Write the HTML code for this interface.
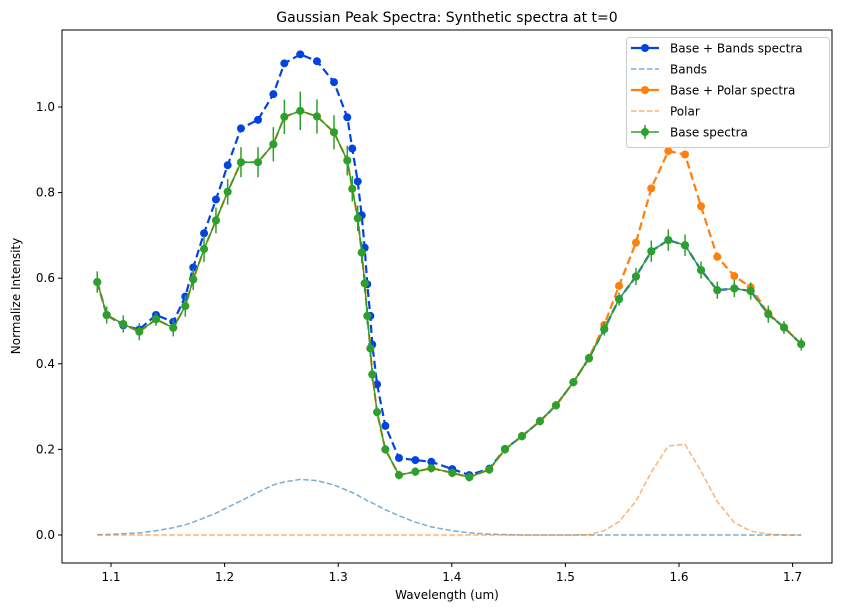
<!DOCTYPE html>
<html><head><meta charset="utf-8"><style>
html,body{margin:0;padding:0;background:#fff;}
svg{display:block;font-family:"DejaVu Sans","Liberation Sans",sans-serif;}
</style></head><body>
<svg id="chart" width="846" height="612" viewBox="0 0 846 612">
<rect x="0" y="0" width="846" height="612" fill="#fff"/>
<text x="447" y="22" font-size="14" text-anchor="middle">Gaussian Peak Spectra: Synthetic spectra at t=0</text>
<g id="plot"></g>
<g id="axes"></g>
<rect x="62" y="30" width="770" height="533" fill="none" stroke="#000" stroke-width="1"/>
<text x="447" y="599" font-size="12" text-anchor="middle">Wavelength (um)</text>
<text x="20" y="296" font-size="12" text-anchor="middle" transform="rotate(-90 20 296)">Normalize Intensity</text>
<g id="legend"></g>
</svg>
<script>
const wavelength=[1.0879,1.0962,1.1108,1.1249,1.1396,1.1548,1.1654,1.1724,1.1819,1.1924,1.2027,1.2144,1.2294,1.2429,1.2526,1.2666,1.2813,1.2963,1.3080,1.3124,1.3172,1.3207,1.3233,1.3256,1.3283,1.3300,1.3342,1.3415,1.3535,1.3679,1.3820,1.4004,1.4154,1.4330,1.4468,1.4618,1.4776,1.4917,1.5070,1.5208,1.5342,1.5472,1.5621,1.5756,1.5906,1.6053,1.6194,1.6337,1.6487,1.6631,1.6786,1.6924,1.7076];
const baseSpectra=[0.591,0.514,0.493,0.475,0.504,0.484,0.535,0.597,0.668,0.735,0.802,0.871,0.871,0.913,0.977,0.991,0.978,0.941,0.875,0.809,0.740,0.660,0.588,0.512,0.436,0.375,0.287,0.200,0.140,0.148,0.156,0.145,0.135,0.153,0.200,0.231,0.266,0.303,0.357,0.413,0.481,0.551,0.604,0.663,0.689,0.677,0.619,0.572,0.576,0.570,0.516,0.485,0.446];
const baseErr=[0.025,0.02,0.02,0.02,0.015,0.02,0.025,0.025,0.03,0.03,0.03,0.035,0.035,0.04,0.04,0.045,0.04,0.04,0.035,0.03,0.03,0.025,0.02,0.02,0.02,0.015,0.01,0.01,0.01,0.01,0.01,0.01,0.01,0.01,0.01,0.01,0.01,0.01,0.01,0.01,0.015,0.015,0.02,0.025,0.025,0.025,0.02,0.02,0.02,0.02,0.02,0.015,0.015];
const bands=[0.001,0.001,0.003,0.005,0.010,0.017,0.024,0.030,0.040,0.051,0.065,0.080,0.100,0.117,0.124,0.130,0.127,0.117,0.104,0.099,0.093,0.087,0.084,0.080,0.077,0.075,0.069,0.059,0.045,0.030,0.019,0.010,0.005,0.002,0.001,0,0,0,0,0,0,0,0,0,0,0,0,0,0,0,0,0,0];
const polar=[0,0,0,0,0,0,0,0,0,0,0,0,0,0,0,0,0,0,0,0,0,0,0,0,0,0,0,0,0,0,0,0,0,0,0,0,0,0,0,0.001,0.010,0.031,0.079,0.147,0.208,0.212,0.149,0.078,0.029,0.009,0.002,0,0];
const bandsSpectra=[0.591,0.514,0.490,0.480,0.514,0.498,0.557,0.625,0.705,0.784,0.864,0.950,0.970,1.030,1.102,1.123,1.107,1.058,0.976,0.903,0.826,0.747,0.671,0.586,0.512,0.445,0.352,0.255,0.180,0.175,0.171,0.154,0.140,0.155,0.201,0.231,0.266,0.303,0.357,0.413,0.481,0.551,0.604,0.663,0.689,0.677,0.619,0.572,0.576,0.570,0.516,0.485,0.446];
const polarSpectra=[0.591,0.514,0.493,0.475,0.504,0.484,0.535,0.597,0.668,0.735,0.802,0.871,0.871,0.913,0.977,0.991,0.978,0.941,0.875,0.809,0.740,0.660,0.588,0.512,0.436,0.375,0.287,0.200,0.140,0.148,0.156,0.145,0.135,0.153,0.200,0.231,0.266,0.303,0.357,0.414,0.491,0.582,0.683,0.810,0.897,0.889,0.768,0.650,0.605,0.579,0.518,0.485,0.446];
const xTicks=[1.1,1.2,1.3,1.4,1.5,1.6,1.7];
const xTickLabels=["1.1","1.2","1.3","1.4","1.5","1.6","1.7"];
const yTicks=[0,0.2,0.4,0.6,0.8,1.0];
const yTickLabels=["0.0","0.2","0.4","0.6","0.8","1.0"];

const NS="http://www.w3.org/2000/svg";
function X(v){return 111+(v-1.1)*1136;}
function Y(v){return 535-v*428;}
function mk(tag,attrs,parent){const e=document.createElementNS(NS,tag);for(const k in attrs)e.setAttribute(k,attrs[k]);parent.appendChild(e);return e;}
const plot=document.getElementById('plot'),axes=document.getElementById('axes'),legend=document.getElementById('legend');

xTicks.forEach((t,i)=>{
  const l=mk('line',{x1:X(t),x2:X(t),y1:563,y2:567,stroke:'#000'},axes);
  
  
  const tx=mk('text',{x:X(t),y:581,'font-size':12,'text-anchor':'middle'},axes);
  tx.textContent=xTickLabels[i];
  
  
});
yTicks.forEach((t,i)=>{
  const l=mk('line',{x1:58,x2:62,y1:Y(t),y2:Y(t),stroke:'#000'},axes);
  
  
  const tx=mk('text',{x:55,y:Y(t)+4,'font-size':12,'text-anchor':'end'},axes);
  tx.textContent=yTickLabels[i];
  
  
});
function pts(arr){return wavelength.map((w,i)=>X(w).toFixed(1)+','+Y(arr[i]).toFixed(1)).join(' ');}
function line(arr,color,width,dash,op,name){
  const p=mk('polyline',{points:pts(arr),fill:'none',stroke:color,'stroke-width':width,'stroke-dasharray':dash||'none','stroke-opacity':op},plot);
  
  
}
function markers(arr,color,name){
  arr.forEach((v,i)=>{
    const c=mk('circle',{cx:X(wavelength[i]),cy:Y(v),r:4,fill:color},plot);
    
    
  });
}
line(bandsSpectra,'#0343df',2.2,'8,4',1,'bands-spectra-line');
markers(bandsSpectra,'#0343df','bands-spectra-point');
line(bands,'#1f77b4',1.5,'5.5,2.5',0.6,'bands-line');
line(polarSpectra,'#ff7f0e',2.2,'8,4',1,'polar-spectra-line');
markers(polarSpectra,'#ff7f0e','polar-spectra-point');
line(polar,'#ff7f0e',1.5,'5.5,2.5',0.6,'polar-line');
baseSpectra.forEach((v,i)=>{
  const e=mk('line',{x1:X(wavelength[i]),x2:X(wavelength[i]),y1:Y(v-baseErr[i]),y2:Y(v+baseErr[i]),stroke:'#2ca02c','stroke-width':1.5},plot);
  
  
});
line(baseSpectra,'#2ca02c',1.5,null,1,'base-spectra-line');
markers(baseSpectra,'#2ca02c','base-spectra-point');

const lb=mk('rect',{x:626.5,y:37.5,width:203,height:110,rx:3,fill:'#fff','fill-opacity':0.8,stroke:'#ccc'},legend);


const entries=[["Base + Bands spectra",'#0343df',1,true,2.2],["Bands",'#1f77b4',0.6,false,1.5],["Base + Polar spectra",'#ff7f0e',1,true,2.2],["Polar",'#ff7f0e',0.6,false,1.5],["Base spectra",'#2ca02c',1,true,1.5]];
entries.forEach((en,i)=>{
  const y=48+i*21;
  const g=mk('g',{},legend);
  
  
  mk('line',{x1:631,x2:659,y1:y,y2:y,stroke:en[1],'stroke-opacity':en[2],'stroke-width':en[4],'stroke-dasharray':en[3]?(i==4?'none':'none'):'5.5,2.5'},g);
  if(en[3]) mk('circle',{cx:645,cy:y,r:4,fill:en[1]},g);
  if(i==4) mk('line',{x1:645,x2:645,y1:y-7,y2:y+7,stroke:en[1],'stroke-width':1.5},g);
  const t=mk('text',{x:670,y:y+4.5,'font-size':12},g);
  t.textContent=en[0];
});
</script>
</body></html>
